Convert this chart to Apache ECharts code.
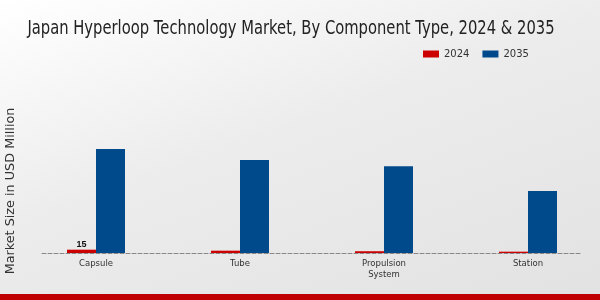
<!DOCTYPE html>
<html><head><meta charset="utf-8">
<script src="https://cdn.jsdelivr.net/npm/echarts@6/dist/echarts.min.js"></script>
<style>html,body{margin:0;padding:0;}#c{width:600px;height:300px;background:linear-gradient(160deg,#ffffff 0%,#ececec 45%,#e2e2e2 100%);}</style>
</head><body><div id="c"></div>
<script>
const categories = ['Capsule', 'Tube', 'Propulsion\nSystem', 'Station'];
const values2024 = [15, 10.5, 8, 6];
const values2035 = [470, 420, 392, 280];
const seriesNames = ['2024', '2035'];
const titleText = 'Japan Hyperloop Technology Market, By Component Type, 2024 & 2035';

const chart = echarts.init(document.getElementById('c'), null, {renderer: 'canvas'});
chart.setOption({
  animation: false,
  legend: {
    data: seriesNames, top: 44, left: 418, itemWidth: 16, itemHeight: 7, itemGap: 13,
    textStyle: {fontFamily: 'DejaVu Sans', fontSize: 10, color: '#333'}, icon: 'rect'
  },
  grid: [
    {left: 24, right: 0, top: 129, bottom: 47, outerBoundsMode: 'none', containLabel: false},
    {left: 42, right: 20, top: 129, bottom: 47, outerBoundsMode: 'none', containLabel: false}
  ],
  xAxis: [
    {type: 'category', data: categories, gridIndex: 0,
     axisLine: {show: false}, axisTick: {show: false},
     axisLabel: {fontFamily: 'DejaVu Sans', fontSize: 8.5, color: '#333', margin: 5, lineHeight: 11}},
    {type: 'category', data: [''], gridIndex: 1,
     axisLine: {show: true, lineStyle: {type: 'dashed', color: '#888', width: 1}},
     axisTick: {show: false}, axisLabel: {show: false}}
  ],
  yAxis: [
    {type: 'value', gridIndex: 0, min: 0, max: 560, show: true,
     name: 'Market Size in USD Million', nameLocation: 'middle', nameGap: 7,
     nameTextStyle: {fontFamily: 'DejaVu Sans', fontSize: 12.8, color: '#333'},
     axisLine: {show: false}, axisTick: {show: false}, axisLabel: {show: false}, splitLine: {show: false}},
    {type: 'value', gridIndex: 1, min: 0, max: 560, show: false, splitLine: {show: false}}
  ],
  series: [
    {name: '2024', type: 'bar', data: values2024, barWidth: 29, barGap: '0%',
     itemStyle: {color: '#cc0000'},
     label: {show: true, position: 'top', distance: 1, fontSize: 9, fontWeight: 'bold', color: '#111',
       formatter: p => p.dataIndex === 0 ? String(p.value) : ''}},
    {name: '2035', type: 'bar', data: values2035, barWidth: 29, barGap: '0%',
     itemStyle: {color: '#004a8b'}}
  ],
  graphic: [
    {type: 'text', x: 291, y: 29, scaleX: 0.757, silent: true,
     style: {text: titleText, fontFamily: 'DejaVu Sans', fontSize: 19.5, fill: '#222',
       textAlign: 'center', textVerticalAlign: 'middle'}},
    {type: 'rect', left: 0, top: 294, shape: {width: 600, height: 6}, style: {fill: '#c00000'}, silent: true}
  ]
});
</script></body></html>
